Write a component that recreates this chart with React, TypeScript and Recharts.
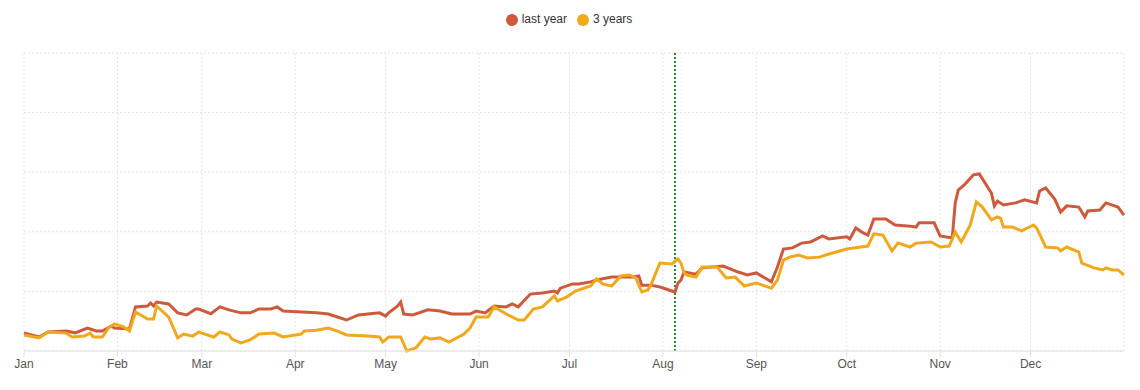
import { LineChart, Line, XAxis, YAxis, CartesianGrid, Legend, ReferenceLine } from 'recharts';

// day of year -> value
const lastYear: [number, number][] = [
  [0, 6.1], [5, 4.7], [8, 6.4], [14, 6.7], [17, 6.1], [21, 7.7], [24, 6.7], [26, 6.7], [29, 8.4], [30, 7.7],
  [35, 7.4], [37, 14.8], [41, 15.1], [42, 16.1], [43, 15.1], [44, 16.4], [48, 15.8], [51, 12.8], [54, 12.1],
  [57, 14.1], [58, 14.1], [62, 12.5], [65, 14.8], [68, 13.8], [72, 12.8], [75, 12.8], [78, 14.1], [82, 14.1],
  [84, 14.8], [86, 13.4], [92, 13.1], [97, 12.8], [101, 12.4], [104, 11.4], [107, 10.4], [111, 12.1],
  [118, 12.8], [120, 11.7], [121, 12.8], [124, 15.1], [125, 16.4], [126, 12.4], [129, 12.1], [134, 13.8],
  [138, 13.4], [142, 12.4], [148, 12.4], [150, 13.4], [153, 12.8], [156, 15.1], [160, 14.8], [162, 15.8],
  [164, 14.8], [168, 19.1], [172, 19.5], [176, 20.1], [177, 19.5], [178, 21.1], [182, 22.5], [184, 22.5],
  [188, 23.2], [190, 23.8], [195, 24.8], [202, 24.8], [204, 25.2], [205, 22.1], [208, 22.1], [211, 21.5],
  [213, 20.8], [216, 19.8], [217, 22.8], [218, 23.8], [219, 26.5], [223, 25.8], [225, 27.9], [232, 28.5],
  [237, 26.5], [240, 25.5], [243, 26.2], [247, 23.8], [248, 23.2], [250, 28.2], [252, 34.2], [255, 34.6],
  [258, 36.2], [261, 36.6], [265, 38.6], [267, 37.6], [273, 38.3], [274, 37.6], [276, 41.3], [278, 39.9],
  [280, 38.9], [282, 44.3], [286, 44.3], [289, 42.3], [294, 41.9], [296, 41.6], [297, 43.0], [302, 43.0],
  [304, 38.6], [308, 37.9], [309, 49.7], [310, 54.0], [312, 55.7], [315, 59.1], [317, 59.4], [321, 53.0],
  [322, 48.7], [323, 50.3], [325, 49.0], [329, 49.7], [332, 50.7], [336, 49.7], [337, 53.7], [339, 54.7],
  [342, 51.0], [344, 46.6], [346, 48.7], [350, 48.3], [352, 45.0], [353, 47.0], [357, 47.3], [359, 49.7],
  [363, 48.3], [365, 45.6],
];

const threeYears: [number, number][] = [
  [0, 5.4], [5, 4.4], [8, 6.4], [14, 6.0], [16, 4.7], [20, 5.0], [22, 6.0], [23, 4.7], [26, 4.7], [28, 7.7],
  [30, 9.1], [33, 8.1], [35, 6.7], [37, 13.1], [41, 10.7], [43, 10.7], [44, 15.1], [48, 11.4], [51, 4.4],
  [53, 5.7], [56, 5.0], [58, 6.4], [59, 6.0], [63, 4.7], [65, 6.4], [68, 5.4], [69, 4.0], [72, 2.7],
  [75, 3.7], [78, 5.7], [83, 6.0], [86, 4.7], [92, 5.7], [93, 6.7], [97, 7.0], [101, 7.7], [104, 6.7],
  [107, 5.4], [114, 5.0], [118, 4.7], [119, 3.0], [121, 4.7], [125, 4.7], [127, 0], [130, 1.0], [133, 4.7],
  [135, 4.0], [138, 4.4], [141, 3.0], [146, 5.7], [148, 7.7], [150, 11.4], [154, 11.4], [156, 14.8],
  [160, 12.4], [164, 10.4], [166, 10.4], [169, 14.1], [172, 14.8], [176, 18.5], [177, 16.8], [180, 18.1],
  [183, 20.1], [188, 21.8], [190, 24.2], [192, 22.5], [195, 21.8], [198, 25.2], [201, 25.5], [203, 24.5],
  [205, 19.8], [207, 20.5], [208, 22.1], [211, 29.5], [215, 29.2], [217, 30.9], [218, 29.5], [219, 26.2],
  [220, 25.5], [223, 24.8], [225, 28.2], [230, 28.2], [233, 24.5], [236, 24.8], [239, 21.8], [243, 22.8],
  [248, 21.1], [250, 23.8], [252, 30.5], [254, 31.5], [257, 32.2], [260, 31.2], [264, 31.5], [266, 32.2],
  [273, 34.2], [280, 35.2], [282, 39.3], [285, 38.9], [288, 33.6], [290, 36.2], [294, 34.9], [296, 36.2],
  [301, 36.6], [304, 34.9], [307, 35.2], [309, 39.9], [311, 36.6], [314, 42.3], [316, 50.0], [318, 48.3],
  [321, 44.0], [323, 45.0], [324, 44.6], [325, 41.6], [328, 41.6], [331, 40.3], [335, 42.3], [336, 41.3],
  [339, 34.9], [343, 34.6], [344, 33.6], [346, 34.9], [350, 33.2], [351, 29.5], [355, 27.9], [358, 27.2],
  [359, 27.9], [361, 27.2], [363, 27.2], [365, 25.5],
];

const monthStarts = [0, 31, 59, 90, 120, 151, 181, 212, 243, 273, 304, 334];
const monthNames = ['Jan', 'Feb', 'Mar', 'Apr', 'May', 'Jun', 'Jul', 'Aug', 'Sep', 'Oct', 'Nov', 'Dec'];
const yTicks = [0, 20, 40, 60, 80, 100];
const seriesNames = ['last year', '3 years'];
const todayMarker = 216;

const lastYearData = lastYear.map(([day, value]) => ({ day, value }));
const threeYearsData = threeYears.map(([day, value]) => ({ day, value }));

export default function App() {
  return (
    <div style={{ fontFamily: '"Liberation Sans", Arial, sans-serif' }}>
      <LineChart
        width={1124}
        height={382}
        margin={{ top: 21, right: 8, left: 16, bottom: 9 }}
      >
        <CartesianGrid stroke="#e6e6e6" strokeDasharray="2 2" />
        <XAxis
          dataKey="day"
          type="number"
          domain={[0, 365]}
          ticks={monthStarts}
          tickFormatter={(d: number) => monthNames[monthStarts.indexOf(d)]}
          tick={{ fontSize: 12, fill: '#555' }}
          stroke="#e0e0e0"
          allowDuplicatedCategory={false}
        />
        <YAxis hide domain={[0, 100]} ticks={yTicks} />
        <Legend
          verticalAlign="top"
          align="center"
          iconType="circle"
          iconSize={12}
          height={24}
          itemSorter={(item: any) => seriesNames.indexOf(item.value)}
          wrapperStyle={{ top: 4, fontSize: 12, color: '#333' }}
          formatter={(v: string) => <span style={{ color: '#333' }}>{v}</span>}
        />
        <ReferenceLine x={todayMarker} stroke="#1a8c1a" strokeWidth={2} strokeDasharray="2 2" />
        <Line
          data={lastYearData}
          dataKey="value"
          name="last year"
          type="linear"
          stroke="#cd5a3c"
          strokeWidth={3}
          dot={false}
          isAnimationActive={false}
        />
        <Line
          data={threeYearsData}
          dataKey="value"
          name="3 years"
          type="linear"
          stroke="#f0a81c"
          strokeWidth={3}
          dot={false}
          isAnimationActive={false}
        />
      </LineChart>
    </div>
  );
}
